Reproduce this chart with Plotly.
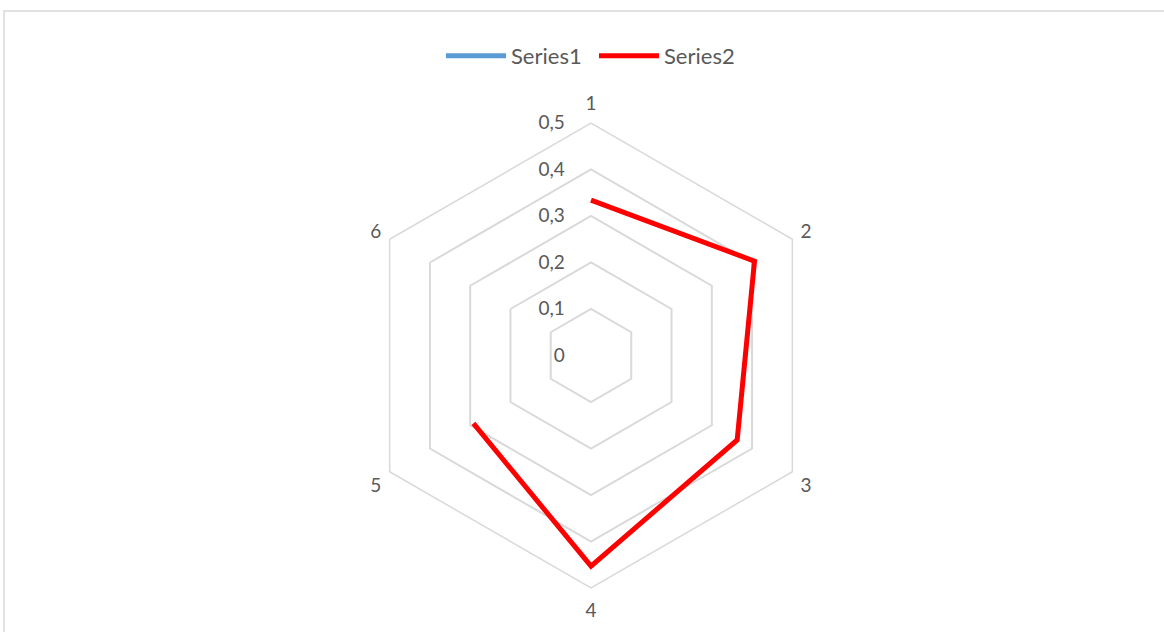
import plotly.graph_objects as go

# Radar categories and series values (Series1 has no data points)
categories = ["1", "2", "3", "4", "5", "6"]
series1 = [None, None, None, None, None, None]
series2 = [0.334, 0.406, 0.363, 0.453, 0.292, None]
radial_ticks = [0, 0.1, 0.2, 0.3, 0.4, 0.5]
radial_labels = ["0", "0,1", "0,2", "0,3", "0,4", "0,5"]

W, H = 1164, 632
cx, cy, R = 591, 355.5, 232.5

fig = go.Figure()
fig.add_trace(go.Scatterpolar(
    r=series1, theta=categories, name="Series1", mode="lines",
    line=dict(color="#5B9BD5", width=5), showlegend=True,
))
fig.add_trace(go.Scatterpolar(
    r=series2, theta=categories, name="Series2", mode="lines",
    connectgaps=False,
    line=dict(color="#FF0000", width=5),
))

font_main = dict(family="Lato, 'Open Sans', sans-serif", size=19, color="#595959")
font_legend = dict(family="Lato, 'Open Sans', sans-serif", size=22, color="#595959")

fig.update_layout(
    width=W, height=H,
    margin=dict(l=0, r=0, t=0, b=0),
    paper_bgcolor="white",
    plot_bgcolor="white",
    font=font_main,
    showlegend=True,
    legend=dict(
        orientation="h", x=594 / W, xanchor="center", y=1 - 56 / H, yanchor="middle",
        font=font_legend, itemwidth=60,
        entrywidth=78, entrywidthmode="pixels",
    ),
    polar=dict(
        bgcolor="white",
        gridshape="linear",
        domain=dict(x=[cx / W - 0.3, cx / W + 0.3],
                    y=[1 - (cy + R) / H, 1 - (cy - R) / H]),
        radialaxis=dict(
            range=[0, 0.5], tickvals=radial_ticks, ticktext=radial_labels,
            angle=90, side="counterclockwise", tickangle=90,
            showline=False, ticks="outside", ticklen=19, tickcolor="rgba(0,0,0,0)",
            showgrid=True, gridcolor="#d9d9d9", gridwidth=1.5,
            tickfont=font_main,
        ),
        angularaxis=dict(
            categoryorder="array", categoryarray=categories,
            rotation=90, direction="clockwise",
            showgrid=False, showline=True,
            linecolor="#d9d9d9", linewidth=1.5,
            ticks="outside", ticklen=5, tickcolor="rgba(0,0,0,0)",
            tickfont=font_main,
        ),
    ),
    shapes=[dict(
        type="rect", xref="paper", yref="paper",
        x0=4 / W, x1=1.05, y0=-0.05, y1=1 - 11 / H,
        line=dict(color="#d9d9d9", width=1.5), fillcolor="rgba(0,0,0,0)",
    )],
)

fig.write_html("out.html")
